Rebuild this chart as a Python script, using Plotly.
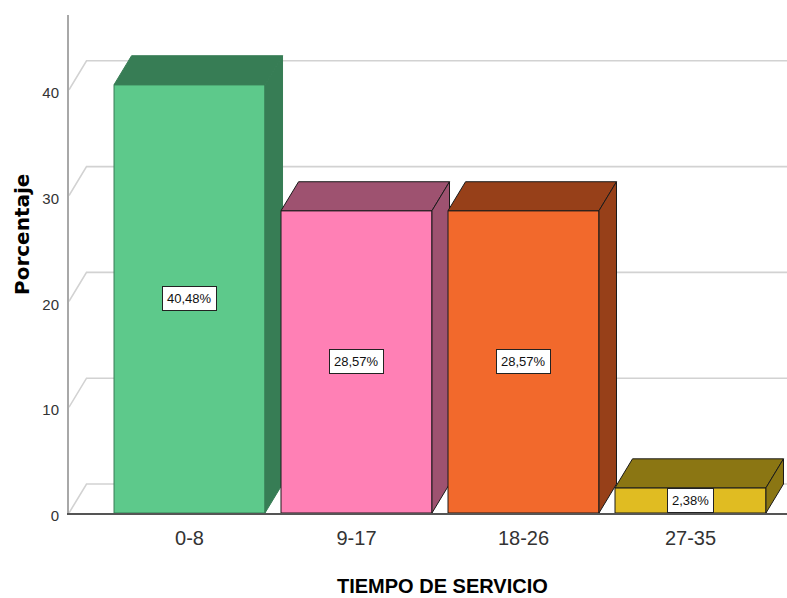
import plotly.graph_objects as go

# Data
categorias = ["0-8", "9-17", "18-26", "27-35"]
porcentajes = [40.48, 28.57, 28.57, 2.38]
etiquetas = ["40,48%", "28,57%", "28,57%", "2,38%"]
ticks_y = [0, 10, 20, 30, 40]

# Face colours: front, top/side
frente = ["#5DC98B", "#FF80B5", "#F2692C", "#E0BC22"]
oscuro = ["#377D55", "#9E5270", "#974019", "#8B7613"]
borde = ["#377D55", "#1a1a1a", "#1a1a1a", "#1a1a1a"]

# Geometry of the pseudo-3D view (data units)
X_MIN, X_MAX = -0.7216, 3.578
Y_MAX = 47.07
HALF = 0.452      # half bar width
DX = 0.105        # depth offset along x
DY = 2.74         # depth offset along y

FONT = "Liberation Sans, Arial, sans-serif"

fig = go.Figure()

# Floor / back grid lines
for t in ticks_y:
    fig.add_trace(go.Scatter(
        x=[X_MIN, X_MIN + DX, X_MAX], y=[t, t + DY, t + DY],
        mode="lines", line=dict(color="#d2d2d2", width=1.6),
        hoverinfo="skip", showlegend=False))

# Bars: front, top and right faces
for i, v in enumerate(porcentajes):
    x0, x1 = i - HALF, i + HALF
    # front
    fig.add_trace(go.Scatter(
        x=[x0, x1, x1, x0, x0], y=[0, 0, v, v, 0],
        fill="toself", fillcolor=frente[i], mode="lines",
        line=dict(color=borde[i], width=1), hoverinfo="skip", showlegend=False))
    # top
    fig.add_trace(go.Scatter(
        x=[x0, x1, x1 + DX, x0 + DX, x0], y=[v, v, v + DY, v + DY, v],
        fill="toself", fillcolor=oscuro[i], mode="lines",
        line=dict(color=borde[i], width=1), hoverinfo="skip", showlegend=False))
    # right side
    fig.add_trace(go.Scatter(
        x=[x1, x1 + DX, x1 + DX, x1, x1], y=[0, DY, v + DY, v, 0],
        fill="toself", fillcolor=oscuro[i], mode="lines",
        line=dict(color=borde[i], width=1), hoverinfo="skip", showlegend=False))

# Value labels
for i, v in enumerate(porcentajes):
    fig.add_annotation(
        x=i, y=v / 2, xref="x", yref="y", text=etiquetas[i], showarrow=False,
        font=dict(family=FONT, size=13, color="#111"),
        bgcolor="white", bordercolor="#222", borderwidth=1, borderpad=4)

# Page layout in pixels
L, R, T, B = 69, 0, 15, 85
W, H = 787, 598
pw, ph = W - L - R, H - T - B


def paper_xy(px, py):
    return (px - L) / pw, (H - B - py) / ph


# Axis titles
tx, ty = paper_xy(22, 235)
fig.add_annotation(
    x=tx, y=ty, xref="paper", yref="paper", xanchor="center", yanchor="middle",
    text="<b>Porcentaje</b>", showarrow=False, textangle=-90,
    font=dict(family="DejaVu Sans, Arial, sans-serif", size=20, color="#000"))
tx, ty = paper_xy(442, 586)
fig.add_annotation(
    x=tx, y=ty, xref="paper", yref="paper", xanchor="center", yanchor="middle",
    text="<b>TIEMPO DE SERVICIO</b>", showarrow=False,
    font=dict(family=FONT, size=20, color="#000"))

fig.update_layout(
    width=W, height=H,
    margin=dict(l=L, r=R, t=T, b=B),
    paper_bgcolor="white", plot_bgcolor="white",
    xaxis=dict(
        range=[X_MIN, X_MAX], tickvals=list(range(len(categorias))),
        ticktext=categorias, showgrid=False, zeroline=False,
        showline=True, linecolor="#555", linewidth=1.5, ticks="",
        tickfont=dict(family=FONT, size=20, color="#333"),
        ticklabelstandoff=6),
    yaxis=dict(
        range=[0, Y_MAX], tickvals=ticks_y, showgrid=False, zeroline=False,
        showline=True, linecolor="#a8a8a8", linewidth=2, ticks="",
        tickfont=dict(family=FONT, size=15, color="#333"),
        ticklabelstandoff=5, ticklabelshift=3),
)

fig.write_html("out.html")
